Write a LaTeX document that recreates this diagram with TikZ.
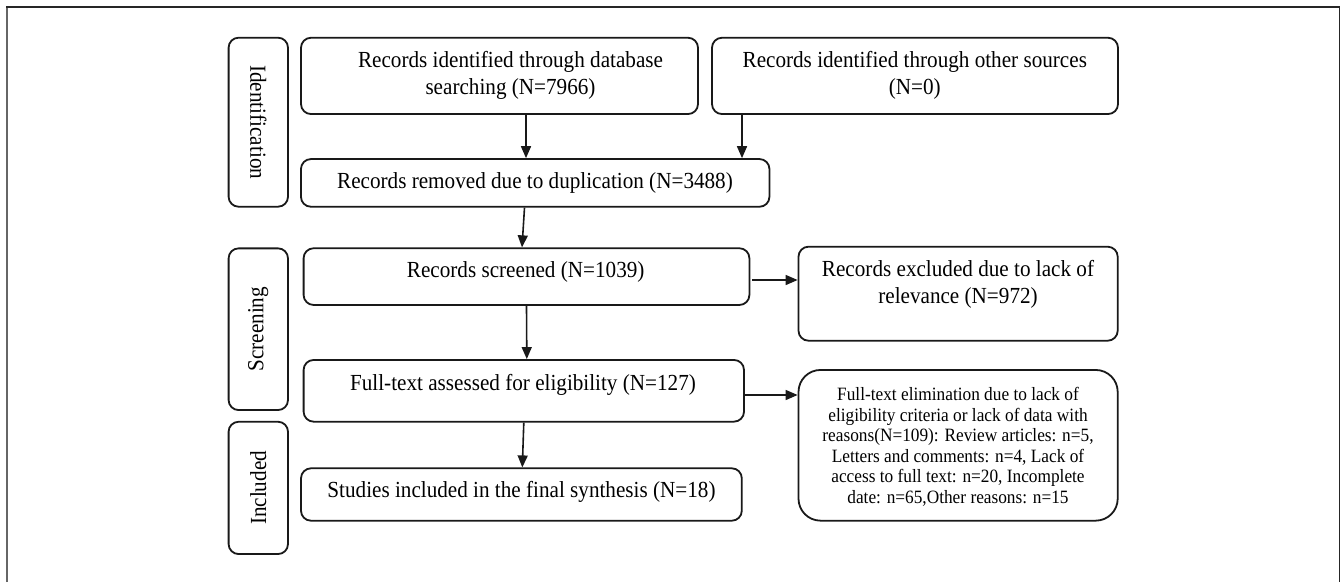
\documentclass[tikz,border=0pt]{standalone}
\usepackage{fontspec}
\setmainfont{Liberation Serif}[FakeStretch=0.92]
\usetikzlibrary{arrows.meta}
\begin{document}
\begin{tikzpicture}[x=1pt,y=-1pt,
  box/.style={draw=black!90, line width=1.8pt, rounded corners=10pt, inner sep=0pt},
  bigbox/.style={box, rounded corners=22pt},
  txt/.style={font=\fontsize{23}{26.7}\selectfont, align=center, inner sep=0pt, text=black},
  small/.style={font=\fontsize{18.8}{20.5}\selectfont, align=center, inner sep=0pt, text=black},
  arr/.style={draw=black!90, line width=1.6pt, -{Triangle[length=12pt,width=10pt]}}]
\useasboundingbox (0,0) rectangle (1341,582);
% frame
\draw[black!60, line width=2pt] (7,582) -- (7,7);
\draw[black!85, line width=1.5pt] (6,7) -- (1339.5,7) -- (1339.5,582);
% stage boxes
\node[box, minimum width=59.4pt, minimum height=169pt] (s1) at (258.3,122.2) {};
\node[box, minimum width=59.4pt, minimum height=161.7pt] (s2) at (258.3,329.2) {};
\node[box, minimum width=59.4pt, minimum height=132.3pt] (s3) at (258.3,487.9) {};
\node[txt, rotate=-90] (l1) at (s1.center) {Identification};
\node[txt, rotate=90] (l2) at (s2.center) {Screening};
\node[txt, rotate=90] (l3) at (s3.center) {Included};
% boxes
\node[box, minimum width=397pt, minimum height=76.3pt] (b1) at (499.5,75.9) {};
\node[box, minimum width=406pt, minimum height=76.3pt] (b2) at (915,75.9) {};
\node[box, minimum width=468.5pt, minimum height=47.7pt] (b3) at (535.2,182.9) {};
\node[box, minimum width=445.8pt, minimum height=56.7pt] (b4) at (526.5,276.6) {};
\node[box, minimum width=319.2pt, minimum height=94pt] (b5) at (958.1,293.7) {};
\node[box, minimum width=440.4pt, minimum height=61.7pt] (b6) at (523.8,390.8) {};
\node[bigbox, minimum width=319.2pt, minimum height=150.7pt] (b7) at (958.1,445.3) {};
\node[box, minimum width=440.8pt, minimum height=52.4pt] (b8) at (521.4,494.5) {};
% texts
\node[txt] (t1) at (510.5,75.5) {Records identified through database\\searching (N=7966)};
\node[txt] (t2) at (914.8,75.5) {Records identified through other sources\\(N=0)};
\node[txt] (t3) at (535,182.7) {Records removed due to duplication (N=3488)};
\node[txt] (t4) at (525.7,272.3) {Records screened (N=1039)};
\node[txt] (t5) at (958,284.5) {Records excluded due to lack of\\relevance (N=972)};
\node[txt] (t6) at (523,385) {Full-text assessed for eligibility (N=127)};
\node[small] (t7) at (958,447) {Full-text elimination due to lack of\\eligibility criteria or lack of data with\\reasons(N=109): Review articles: n=5,\\Letters and comments: n=4, Lack of\\access to full text: n=20, Incomplete\\date: n=65,Other reasons: n=15};
\node[txt] (t8) at (521.5,492.3) {Studies included in the final synthesis (N=18)};
% arrows
\draw[arr] ([xshift=26.5pt]b1.south) -- ([xshift=-9.2pt]b3.north);
\draw[arr] ([xshift=-173pt]b2.south) -- ([xshift=206.8pt]b3.north);
\draw[arr] ([xshift=-10.7pt]b3.south) -- ([xshift=-4.5pt]b4.north);
\draw[arr] ([xshift=2pt,yshift=-3.4pt]b4.east) -- ([yshift=13.7pt]b5.west);
\draw[arr] (b4.south) -- ([xshift=3pt]b6.north);
\draw[arr] (b6.south) -- ([xshift=0.9pt]b8.north);
\draw[arr] ([yshift=-4.2pt]b6.east) -- ([yshift=50.3pt]b7.west);
\end{tikzpicture}
\end{document}
